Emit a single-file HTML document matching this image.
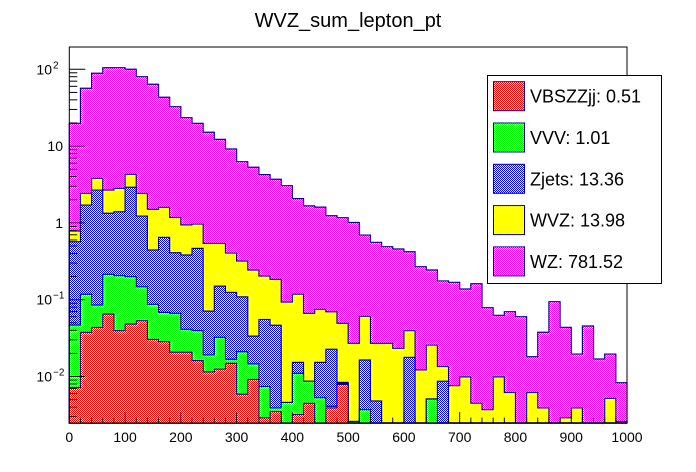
<!DOCTYPE html>
<html><head><meta charset="utf-8"><style>
html,body{margin:0;padding:0;background:#fff;}
svg{display:block;font-family:"Liberation Sans",Arial,sans-serif;}
</style></head><body>
<svg id="chart" width="696" height="472" viewBox="0 0 696 472" xmlns="http://www.w3.org/2000/svg">
<defs>
<pattern id="p-red" width="2" height="2" patternUnits="userSpaceOnUse"><rect width="2" height="2" fill="#fff"/><rect width="1" height="1" fill="#ff0000"/><rect x="1" y="1" width="1" height="1" fill="#ff0000"/></pattern>
<pattern id="p-green" width="2" height="2" patternUnits="userSpaceOnUse"><rect width="2" height="2" fill="#fff"/><rect width="1" height="1" fill="#00ff00"/><rect x="1" y="1" width="1" height="1" fill="#00ff00"/></pattern>
<pattern id="p-blue" width="2" height="2" patternUnits="userSpaceOnUse"><rect width="2" height="2" fill="#fff"/><rect width="1" height="1" fill="#0000ff"/><rect x="1" y="1" width="1" height="1" fill="#0000ff"/></pattern>
<pattern id="p-yellow" width="2" height="2" patternUnits="userSpaceOnUse"><rect width="2" height="2" fill="#fff"/><rect width="1" height="1" fill="#ffff00"/><rect x="1" y="1" width="1" height="1" fill="#ffff00"/></pattern>
<pattern id="p-magenta" width="2" height="2" patternUnits="userSpaceOnUse"><rect width="2" height="2" fill="#fff"/><rect width="1" height="1" fill="#ff00ff"/><rect x="1" y="1" width="1" height="1" fill="#ff00ff"/></pattern>
</defs>
<text x="348" y="27" font-size="20" text-anchor="middle">WVZ_sum_lepton_pt</text>
<g id="bars"></g>
<g id="axes"></g>
<g id="legend">
<rect x="487.5" y="75.5" width="174" height="208" fill="#fff" stroke="#000" stroke-width="1"/>
</g>
</svg>
<script>
const binEdgesStart = 0, binWidth = 20;
const seriesNames = ["VBSZZjj", "VVV", "Zjets", "WVZ", "WZ"];
const legendLabels = ["VBSZZjj: 0.51", "VVV: 1.01", "Zjets: 13.36", "WVZ: 13.98", "WZ: 781.52"];
const xTickLabels = ["0","100","200","300","400","500","600","700","800","900","1000"];
const vbszzjj = [0.0072,0.0377,0.0437,0.0652,0.0395,0.0483,0.0533,0.0305,0.0284,0.0208,0.0208,0.0161,0.0115,0.0125,0.0149,0.0059,0.0092,0.0029,0.0035,0,0.0032,0.0045,0,0.0039,0.0079,0,0,0,0,0,0,0,0,0,0,0,0,0,0,0,0,0,0,0,0,0,0,0,0,0];
const vvv = [0.0397,0.080,0.0416,0.149,0.166,0.151,0.094,0.0566,0.040,0.0457,0.0204,0.0234,0.0076,0.0199,0.0019,0.0151,0.0054,0.0045,0.0004,0.0046,0.0078,0.0042,0.0053,0.0002,0.0002,0.0026,0.0037,0,0,0,0,0,0.0051,0,0,0,0,0,0,0,0,0,0,0,0,0,0,0,0,0];
const zjets = [0.522,1.59,2.59,1.12,1.19,2.71,1.08,0.357,0.58,0.342,0.341,0.427,0.052,0.118,0.108,0.088,0.019,0.048,0.0426,0,0.0043,0,0.010,0.0186,0.0003,0,0.0127,0.0048,0,0,0.0178,0,0,0.0087,0,0,0,0,0,0,0,0,0,0,0,0,0,0,0,0];
const wvz = [0.216,0.72,1.13,1.35,1.42,1.39,1.20,1.06,0.95,0.77,0.56,0.50,0.47,0.39,0.28,0.21,0.21,0.148,0.138,0.0887,0.103,0.058,0.060,0.047,0.041,0.0245,0.0444,0.0223,0.0271,0.0233,0.0217,0.0122,0.0206,0.0048,0.0076,0.0099,0.0045,0.0037,0.0099,0.0062,0,0.0062,0.0039,0,0.0029,0.0039,0,0,0.0052,0.0026];
const wz = [19.0,54.2,84.9,102,102,95.7,77.7,62.3,41.6,31.4,22.5,18.8,14.6,11.7,8.76,5.95,5.06,4.05,3.52,2.96,1.95,1.60,1.53,1.17,1.12,0.985,0.634,0.532,0.463,0.434,0.382,0.257,0.218,0.162,0.161,0.128,0.157,0.075,0.0528,0.0636,0.0601,0.0119,0.0338,0.0942,0.0408,0.0157,0.0455,0.0169,0.0144,0.0057];

const NS = "http://www.w3.org/2000/svg";
const X0 = 69.3, X1 = 627, Y0 = 423, YT = 47;
const xMin = 0, xMax = 1000;
const logMin = -2.605, logMax = 2.29;
function xPos(v){ return X0 + (v - xMin) / (xMax - xMin) * (X1 - X0); }
function yPos(v){
  if (v <= 0) return Y0;
  const l = Math.log10(v);
  if (l <= logMin) return Y0;
  return Y0 - (l - logMin) / (logMax - logMin) * (Y0 - YT);
}
function mk(tag, attrs, parent){
  const e = document.createElementNS(NS, tag);
  for (const k in attrs) e.setAttribute(k, attrs[k]);
  parent.appendChild(e);
  return e;
}
const series = [vbszzjj, vvv, zjets, wvz, wz];
const fills = ["url(#p-red)","url(#p-green)","url(#p-blue)","url(#p-yellow)","url(#p-magenta)"];
const n = wz.length;
const cum = [];
let run = new Array(n).fill(0);
for (let s = 0; s < series.length; s++){
  run = run.map((v,i)=> v + series[s][i]);
  cum.push(run.slice());
}
const barsG = document.getElementById("bars");
for (let s = series.length - 1; s >= 0; s--){
  const c = cum[s];
  let d = "M" + xPos(binEdgesStart) + "," + Y0;
  for (let i = 0; i < n; i++){
    const xa = xPos(binEdgesStart + i*binWidth), xb = xPos(binEdgesStart + (i+1)*binWidth);
    const y = yPos(c[i]);
    d += " L" + xa + "," + y + " L" + xb + "," + y;
  }
  d += " L" + xPos(binEdgesStart + n*binWidth) + "," + Y0 + " Z";
  const p = mk("path", {d: d, fill: fills[s], stroke: "#000099", "stroke-width": "1.2"}, barsG);
  
  
}
// axes
const ax = document.getElementById("axes");
const frame = mk("rect", {x: X0, y: YT, width: X1 - X0, height: Y0 - YT, fill: "none", stroke: "#000", "stroke-width": "1"}, ax);


for (let v = 0; v <= 1000; v += 20){
  const major = v % 100 === 0;
  const t = mk("line", {x1: xPos(v), x2: xPos(v), y1: Y0, y2: Y0 - (major ? 11 : 5.5), stroke: "#000", "stroke-width": "1"}, ax);
  
  
}
xTickLabels.forEach((lab, i) => {
  const t = mk("text", {x: xPos(i*100), y: 442, "font-size": "14", "text-anchor": "middle"}, ax);
  t.textContent = lab;
  
  
});
for (let dec = -3; dec <= 2; dec++){
  for (let m = 1; m <= 9; m++){
    const v = m * Math.pow(10, dec);
    const l = Math.log10(v);
    if (l < logMin || l > logMax) continue;
    const y = yPos(v);
    const t = mk("line", {x1: X0, x2: X0 + (m === 1 ? 16 : 8), y1: y, y2: y, stroke: "#000", "stroke-width": "1"}, ax);
    
    
  }
}
const yLabels = [[2,"10","2"],[1,"10",""],[0,"1",""],[-1,"10","\u22121"],[-2,"10","\u22122"]];
yLabels.forEach(([dec, base, sup]) => {
  const y = yPos(Math.pow(10, dec));
  const t = mk("text", {x: sup ? 52 : 63, y: y + 5, "font-size": "14", "text-anchor": "end"}, ax);
  t.textContent = base;
  
  
  if (sup){
    const s = mk("text", {x: 53, y: y - 1, "font-size": "10", "text-anchor": "start"}, ax);
    s.textContent = sup;
    
    
  }
});
// legend
const lg = document.getElementById("legend");
legendLabels.forEach((lab, i) => {
  const y = 81.7 + i * 41.3;
  const r = mk("rect", {x: 493.5, y: y, width: 31, height: 29, fill: fills[i], stroke: "#000099", "stroke-width": "1"}, lg);
  
  
  const t = mk("text", {x: 530, y: y + 21, "font-size": "18"}, lg);
  t.textContent = lab;
  
  
});
</script>
</body></html>
